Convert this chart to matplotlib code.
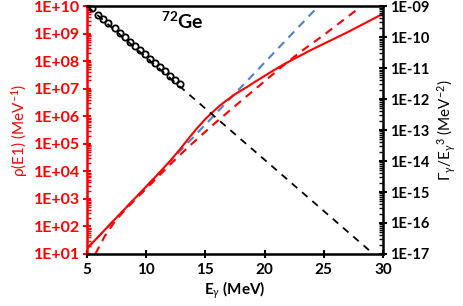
import numpy as np
import matplotlib
matplotlib.use("Agg")
import matplotlib.pyplot as plt
from matplotlib.ticker import LogLocator, FuncFormatter, NullFormatter

plt.rcParams['font.family'] = ['Lato', 'DejaVu Sans']
plt.rcParams['mathtext.fontset'] = 'custom'
plt.rcParams['mathtext.rm'] = 'Lato'
plt.rcParams['mathtext.it'] = 'Lato:italic'
plt.rcParams['mathtext.bf'] = 'Lato:bold'

# level density rho(E1), log10 values (left axis)
e_blue = [5.0, 10.0, 15.0, 20.0, 25.0]
log_blue = [1.2, 3.45, 5.7, 7.95, 10.2]

e_red = [5.0, 10.0, 11.0, 12.0, 12.85, 13.5, 14.26, 15.0, 15.53, 16.2, 16.8, 17.5,
         18.5, 19.3, 20.5, 21.6, 23.8, 27.0, 30.0]
log_red = [1.2, 3.45, 3.9, 4.37, 4.8, 5.15, 5.55, 5.9, 6.12, 6.38, 6.58, 6.8,
           7.06, 7.28, 7.6, 7.88, 8.38, 9.05, 9.72]

e_red_d = [5.7, 6.5, 7.3, 8.0, 9.0, 10.0, 12.0, 13.4, 14.5, 15.67, 17.36, 19.3,
           21.6, 23.0, 25.0, 28.2, 30.0]
log_red_d = [1.0, 1.65, 2.15, 2.5, 2.95, 3.37, 4.24, 4.82, 5.25, 5.7, 6.32, 7.02,
             7.85, 8.33, 8.95, 10.0, 10.55]

# gamma strength Gamma/E^3, log10 values (right axis)
e_gs_line = [5.0, 29.2, 30.0]
log_gs_line = [-9.0, -17.0, -17.26]

e_gs_pts = [5.40, 5.96, 6.38, 6.80, 7.37, 7.79, 8.21, 8.63, 9.06, 9.48,
            9.90, 10.32, 10.74, 11.17, 11.59, 12.01, 12.43, 12.85]
log_gs_pts = [-9.07, -9.28, -9.40, -9.55, -9.72, -9.87, -10.00, -10.15, -10.28, -10.43,
              -10.56, -10.70, -10.83, -10.98, -11.11, -11.25, -11.38, -11.50]

fig = plt.figure(figsize=(4.63, 3.06), dpi=100)
ax = fig.add_axes([0.188, 0.170, 0.639, 0.810])
ax2 = ax.twinx()

ax.plot(e_blue, 10 ** np.array(log_blue), color='#4f81d0', lw=1.5, ls=(0, (4, 3)))
ax.plot(e_red_d, 10 ** np.array(log_red_d), color='#ff0000', lw=1.5, ls=(0, (4, 3)))
ax.plot(e_red, 10 ** np.array(log_red), color='#ff0000', lw=1.5)

ax2.plot(e_gs_line, 10 ** np.array(log_gs_line), color='black', lw=1.3, ls=(0, (4, 3.5)))
ax2.plot(e_gs_pts, 10 ** np.array(log_gs_pts), ls='none', marker='o', ms=4.5,
         mfc='none', mec='black', mew=1.3)

ax.set_xlim(5, 30)
ax.set_yscale('log')
ax.set_ylim(1e1, 1e10)
ax2.set_yscale('log')
ax2.set_ylim(1e-17, 1e-9)

fmt = FuncFormatter(lambda v, p: "1E%+03d" % int(round(np.log10(v))))
for a, fs in ((ax, 11.5), (ax2, 10.5)):
    a.yaxis.set_major_locator(LogLocator(base=10, numticks=20))
    a.yaxis.set_minor_locator(LogLocator(base=10, subs=np.arange(2, 10), numticks=20))
    a.yaxis.set_major_formatter(fmt)
    a.yaxis.set_minor_formatter(NullFormatter())
    a.tick_params(axis='y', which='major', direction='inout', length=6, width=1.5,
                  labelsize=fs, pad=2)
    a.tick_params(axis='y', which='minor', direction='in', length=3, width=1)

ax.set_xticks([5, 10, 15, 20, 25, 30])
ax.tick_params(axis='x', direction='inout', length=6, width=1.5, labelsize=11)
ax.tick_params(axis='y', which='both', colors='#ff0000')
for lab in ax.get_xticklabels() + ax.get_yticklabels() + ax2.get_yticklabels():
    lab.set_fontweight('bold')

for s in ('top', 'bottom'):
    ax2.spines[s].set_linewidth(1.8)
ax2.spines['right'].set_linewidth(1.8)
ax2.spines['left'].set_linewidth(1.8)
ax2.spines['left'].set_color('#ff0000')

ax.set_xlabel(r"E$_\gamma$ (MeV)", fontsize=11, fontweight='bold', labelpad=2)
ax.set_ylabel(r"ρ(E1) (MeV$^{-1}$)", fontsize=11, color='#ff0000', labelpad=3)
ax2.set_ylabel(r"$\Gamma_\gamma$/E$_\gamma$$^3$ (MeV$^{-2}$)", fontsize=11, labelpad=5)

ax.text(0.25, 0.94, r"$^{\mathbf{72}}$Ge", transform=ax.transAxes, fontsize=14,
        fontweight='bold', va='center', ha='left')

fig.savefig('out.png', dpi=100)
